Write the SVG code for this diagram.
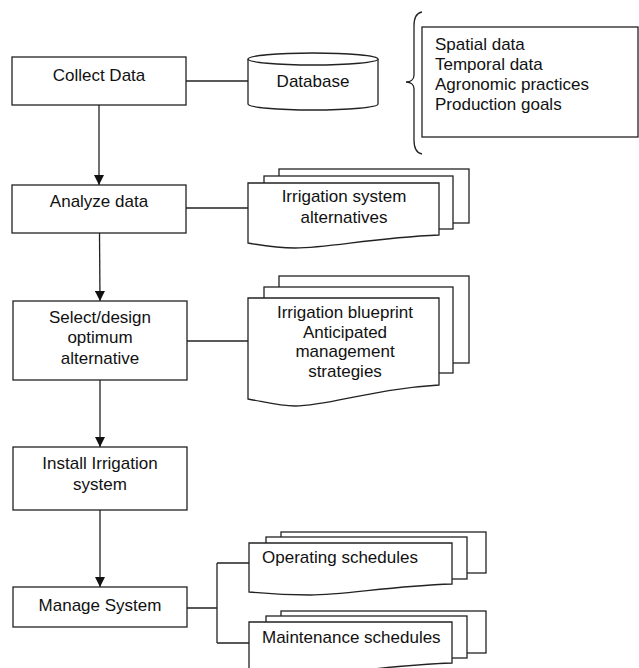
<svg xmlns="http://www.w3.org/2000/svg" width="639" height="668" viewBox="0 0 639 668">
<style>
  .box { fill: #fff; stroke: #222; stroke-width: 1.3; }
  .ln { fill: none; stroke: #222; stroke-width: 1.3; }
  .t { font-family: "Liberation Sans", Arial, sans-serif; font-size: 17px; fill: #111; }
  .c { text-anchor: middle; }
</style>
<defs>
  <marker id="ah" markerUnits="userSpaceOnUse" markerWidth="10" markerHeight="10" refX="10" refY="5" orient="auto">
    <path d="M0,0 L10,5 L0,10 Z" fill="#111"/>
  </marker>
  <clipPath id="bpclip"><rect x="248" y="290" width="200" height="90"/></clipPath>
</defs>
<rect width="639" height="668" fill="#fff"/>

<g id="connectors">
  <line class="ln" x1="186" y1="81" x2="248" y2="81"/>
  <line class="ln" x1="186" y1="208" x2="248" y2="208"/>
  <line class="ln" x1="187" y1="341" x2="248" y2="341"/>
  <path class="ln" d="M187,608 H217 M217,563 V643 M217,563 H249 M217,643 H249"/>
  <line class="ln" x1="99" y1="105" x2="99" y2="185" marker-end="url(#ah)"/>
  <line class="ln" x1="99.5" y1="233" x2="100" y2="301" marker-end="url(#ah)"/>
  <line class="ln" x1="100" y1="380" x2="100" y2="447" marker-end="url(#ah)"/>
  <line class="ln" x1="100" y1="510" x2="100" y2="587" marker-end="url(#ah)"/>
</g>

<g id="collect">
  <rect class="box" x="12" y="57" width="174" height="48"/>
  <text class="t c" x="99" y="81">Collect Data</text>
</g>

<g id="database">
  <path class="box" d="M248,59 V104 A65,6 0 0 0 378,104 V59"/>
  <ellipse class="box" cx="313" cy="59" rx="65" ry="6"/>
  <text class="t c" x="313" y="87">Database</text>
</g>

<g id="datalist">
  <path class="ln" d="M422,12 C416,13 414,18 414,26 L414,75 C414,79 411,82 406,82 C411,82 414,85 414,89 L414,140 C414,148 416,153 422,154"/>
  <rect class="box" x="422" y="27" width="216" height="110"/>
  <text class="t" x="435" y="50">Spatial data</text>
  <text class="t" x="435" y="70">Temporal data</text>
  <text class="t" x="435" y="90">Agronomic practices</text>
  <text class="t" x="435" y="110">Production goals</text>
</g>

<g id="analyze">
  <rect class="box" x="12" y="185" width="174" height="48"/>
  <text class="t c" x="99" y="207">Analyze data</text>
</g>

<g id="alternatives">
  <rect class="box" x="279" y="169" width="190" height="54"/>
  <rect class="box" x="264" y="176" width="189" height="53"/>
  <path class="box" d="M248,183 H439 V235 C370,238 330,248 295,248 C280,248 265,246 248,243 Z"/>
  <text class="t c" x="344" y="202">Irrigation system</text>
  <text class="t c" x="344" y="223">alternatives</text>
</g>

<g id="select">
  <rect class="box" x="13" y="301" width="174" height="79"/>
  <text class="t c" x="100" y="323">Select/design</text>
  <text class="t c" x="100" y="343">optimum</text>
  <text class="t c" x="100" y="364">alternative</text>
</g>

<g id="blueprint">
  <rect class="box" x="279" y="276" width="190" height="87"/>
  <rect class="box" x="264" y="287" width="189" height="86"/>
  <path class="box" d="M248,298 H439 V385 C370,389 330,406 295,406 C280,406 265,402 248,399 Z"/>
  <g clip-path="url(#bpclip)">
    <text class="t c" x="345" y="318">Irrigation blueprint</text>
    <text class="t c" x="345" y="338">Anticipated</text>
    <text class="t c" x="345" y="357">management</text>
    <text class="t c" x="345" y="377">strategies</text>
  </g>
</g>

<g id="install">
  <rect class="box" x="13" y="447" width="174" height="63"/>
  <text class="t c" x="100" y="469">Install Irrigation</text>
  <text class="t c" x="100" y="490">system</text>
</g>

<g id="manage">
  <rect class="box" x="13" y="587" width="174" height="40"/>
  <text class="t c" x="100" y="611">Manage System</text>
</g>

<g id="operating">
  <rect class="box" x="281" y="532" width="205" height="41"/>
  <rect class="box" x="266" y="537" width="201" height="42"/>
  <path class="box" d="M249,543 H452 V584 C390,586 345,595 310,595 C290,595 270,594 249,592 Z"/>
  <text class="t" x="262" y="563">Operating schedules</text>
</g>

<g id="maintenance">
  <rect class="box" x="281" y="611" width="205" height="42"/>
  <rect class="box" x="266" y="616" width="201" height="42"/>
  <path class="box" d="M249,622 H452 V663 C390,665 345,674 310,674 C290,674 270,673 249,671 Z"/>
  <text class="t" x="262" y="643">Maintenance schedules</text>
</g>
</svg>
